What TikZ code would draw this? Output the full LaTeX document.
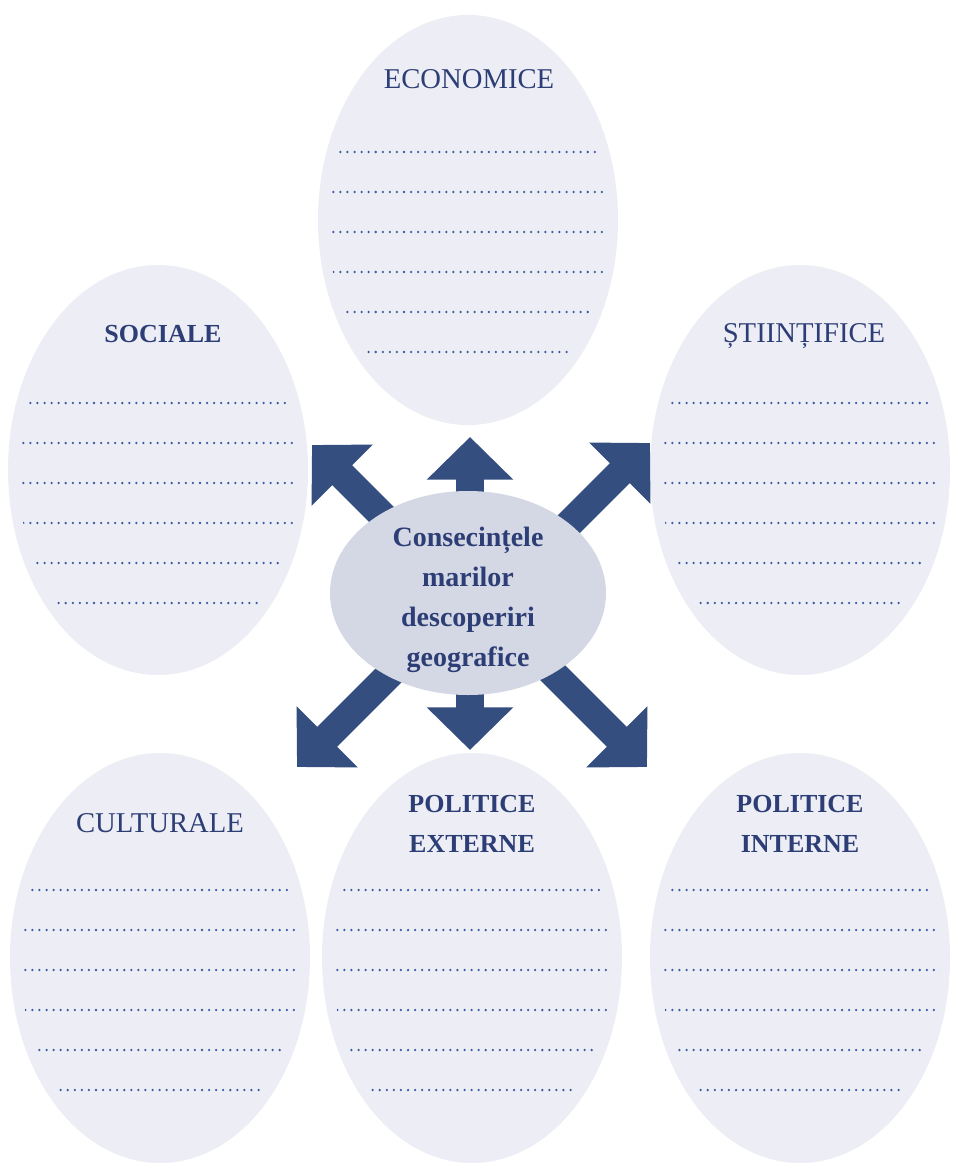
\documentclass[tikz,border=0pt]{standalone}
\usepackage{fontspec}
\setmainfont{Liberation Serif}
\usetikzlibrary{arrows.meta,shapes.geometric}
\definecolor{navy}{RGB}{52,78,128}
\definecolor{txtblue}{RGB}{45,62,118}
\definecolor{ovalfill}{RGB}{237,238,245}
\definecolor{midfill}{RGB}{212,215,228}
\definecolor{dotblue}{RGB}{58,88,160}
\begin{document}
\begin{tikzpicture}[x=0.75pt,y=-0.75pt,
  oval/.style={ellipse, fill=ovalfill, minimum width=225pt, minimum height=307.5pt, inner sep=0pt},
  midoval/.style={ellipse, fill=midfill, minimum width=207pt, minimum height=153pt, inner sep=0pt},
  ttl/.style={anchor=base, text=txtblue, font=\fontsize{21.5}{24}\selectfont, inner sep=0pt},
  bttl/.style={anchor=base, text=txtblue, font=\fontsize{19.5}{30}\selectfont\bfseries, align=center, inner sep=0pt},
  dotline/.style={draw=dotblue, line width=1.9pt, line cap=round, dash pattern=on 0pt off 5.3pt},
  bigarrow/.style={draw=navy, line width=21pt, -{Triangle[length=32pt,width=63pt]}},
  ctext/.style={text=txtblue, font=\fontsize{21}{30}\selectfont\bfseries, align=center, inner sep=0pt}
]
\useasboundingbox (0,0) rectangle (958,1163);
\fill[white] (0,0) rectangle (958,1163);

% outer ovals
\node[oval] (eco) at (468,220) {};
\node[oval] (soc) at (158,470) {};
\node[oval] (sti) at (800,470) {};
\node[oval] (cul) at (160,958) {};
\node[oval] (pex) at (472,958) {};
\node[oval] (pin) at (800,958) {};

% dotted lines
\foreach \n/\cx/\ys in {eco/468/152, soc/158/403, sti/800/403, cul/160/890, pex/472/890, pin/800/890}{
  \begin{scope}
    \clip (\n.center) ellipse [x radius=105pt, y radius=146pt];
    \foreach \k in {0,...,5}{
      \draw[dotline] ({\cx-170},{\ys+40*\k}) -- ({\cx+170},{\ys+40*\k});
    }
  \end{scope}
}

% titles
\node[ttl] (teco) at (469,89) {ECONOMICE};
\node[bttl] (tsoc) at (163,342) {SOCIALE};
\node[ttl] (tsti) at (804,342) {ȘTIINȚIFICE};
\node[ttl] (tcul) at (160,832) {CULTURALE};
\node[bttl] (tpex) at (472,852) {POLITICE\\EXTERNE};
\node[bttl] (tpin) at (800,852) {POLITICE\\INTERNE};

% arrows
\coordinate (o) at (468,593);
\coordinate (sU) at (470,560);  \coordinate (tU) at (470,437);
\coordinate (sD) at (470,630);  \coordinate (tD) at (470,750);
\coordinate (sUL) at (442,575); \coordinate (tUL) at (312,445);
\coordinate (sUR) at (520,573); \coordinate (tUR) at (650,443);
\coordinate (sDL) at (427,637); \coordinate (tDL) at (297,767);
\coordinate (sDR) at (517,637); \coordinate (tDR) at (647,767);
\foreach \d in {U,D,UL,UR,DL,DR}{
  \draw[bigarrow] (s\d) -- (t\d);
}

% centre
\node[midoval] (mid) at (o) {};
\node[ctext] (mtext) at (468,600) {Consecințele\\marilor\\descoperiri\\geografice};
\end{tikzpicture}
\end{document}
